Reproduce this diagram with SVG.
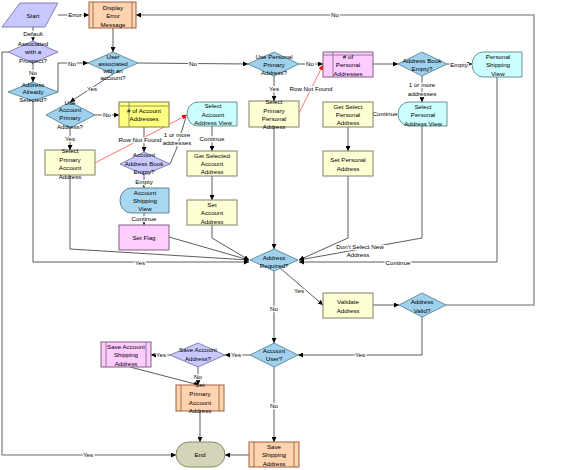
<svg xmlns="http://www.w3.org/2000/svg" width="566" height="470" viewBox="0 0 566 470">
<style>
text{font-family:"Liberation Sans",Arial,sans-serif;font-size:6.2px;text-anchor:middle;fill:#000}
.l{paint-order:stroke;stroke:#fff;stroke-width:2.6px;stroke-linejoin:round}
.c{fill:none;stroke:#333;stroke-width:0.8}
.g{fill:none;stroke:#9a9a9a;stroke-width:1.6}
.r{fill:none;stroke:#ff5050;stroke-width:0.8}
.bl{fill:#9fd0ec;stroke:#4a7a8a;stroke-width:0.8}
.lv{fill:#c8c8ff;stroke:#6a6aa0;stroke-width:0.8}
.ye{fill:#ffffd4;stroke:#80806a;stroke-width:1}
.yd{fill:#ffff80;stroke:#808040;stroke-width:1}
.pk{fill:#ffccff;stroke:#806080;stroke-width:1}
.or{fill:#ffd2b0;stroke:#a06040;stroke-width:1}
.cy{fill:#ccffff;stroke:#4a7a7a;stroke-width:0.8}
.cb{fill:#a8d8f0;stroke:#4a6a7a;stroke-width:0.8}
.en{fill:#d4d4b8;stroke:#707050;stroke-width:0.8}
.in{fill:none;stroke:#806040;stroke-width:0.8}
</style>
<defs>
<marker id="a" viewBox="0 0 6 6" refX="6" refY="3" markerWidth="5" markerHeight="5" markerUnits="userSpaceOnUse" orient="auto"><path d="M0,0L6,3L0,6z" fill="#000"/></marker>
<marker id="ar" viewBox="0 0 6 6" refX="6" refY="3" markerWidth="5" markerHeight="5" markerUnits="userSpaceOnUse" orient="auto"><path d="M0,0L6,3L0,6z" fill="#f00"/></marker>
</defs>

<g id="connectors">
<path class="g" d="M58,15H89" marker-end="url(#a)"/>
<path class="g" d="M446,305H534V15H136" marker-end="url(#a)"/>
<path class="c" d="M33,27V41" marker-end="url(#a)"/>
<path class="c" d="M33,63V82" marker-end="url(#a)"/>
<path class="c" d="M8,52H2V455"/>
<path class="g" d="M2,455H176" marker-end="url(#a)"/>
<path class="c" d="M58,92V63H88" marker-end="url(#a)"/>
<path class="c" d="M33,101V262H249" marker-end="url(#a)"/>
<path class="c" d="M113,28V52" marker-end="url(#a)"/>
<path class="c" d="M113,74L70,102" marker-end="url(#a)"/>
<path class="c" d="M138,63L248,64" marker-end="url(#a)"/>
<path class="c" d="M95,115H119" marker-end="url(#a)"/>
<path class="c" d="M70,128V150" marker-end="url(#a)"/>
<path class="c" d="M70,175V249L249,260" marker-end="url(#a)"/>
<path class="r" d="M95,163L187,115" marker-end="url(#ar)"/>
<path class="c" d="M144,127V152" marker-end="url(#a)"/>
<path class="c" d="M144,174V188" marker-end="url(#a)"/>
<path class="c" d="M170,164L176,150L186,117"/>
<path class="c" d="M144,213V225" marker-end="url(#a)"/>
<path class="c" d="M169,237L249,260" marker-end="url(#a)"/>
<path class="c" d="M212,126V151" marker-end="url(#a)"/>
<path class="c" d="M212,176V200" marker-end="url(#a)"/>
<path class="c" d="M212,225V238L249,260" marker-end="url(#a)"/>
<path class="c" d="M299,64H323" marker-end="url(#a)"/>
<path class="c" d="M274,76V101" marker-end="url(#a)"/>
<path class="c" d="M274,127V249" marker-end="url(#a)"/>
<path class="r" d="M299,113L323,65" marker-end="url(#ar)"/>
<path class="c" d="M373,64H398" marker-end="url(#a)"/>
<path class="c" d="M447,64H472" marker-end="url(#a)"/>
<path class="c" d="M422,76V102" marker-end="url(#a)"/>
<path class="c" d="M398,114H373" marker-end="url(#a)"/>
<path class="c" d="M348,127V151" marker-end="url(#a)"/>
<path class="c" d="M348,176V238L299,260" marker-end="url(#a)"/>
<path class="c" d="M422,126V238L299,260" marker-end="url(#a)"/>
<path class="c" d="M497,77V262H299" marker-end="url(#a)"/>
<path class="c" d="M280,268L323,305" marker-end="url(#a)"/>
<path class="c" d="M274,271V343" marker-end="url(#a)"/>
<path class="c" d="M373,305H399" marker-end="url(#a)"/>
<path class="c" d="M422,317V355H298" marker-end="url(#a)"/>
<path class="c" d="M250,355H225" marker-end="url(#a)"/>
<path class="c" d="M170,355H151" marker-end="url(#a)"/>
<path class="c" d="M198,367V385" marker-end="url(#a)"/>
<path class="c" d="M130,367L199,385" marker-end="url(#a)"/>
<path class="c" d="M200,411V442" marker-end="url(#a)"/>
<path class="c" d="M274,367V442" marker-end="url(#a)"/>
<path class="g" d="M249,455H225" marker-end="url(#a)"/>
<text class="l" x="75" y="17">Error</text>
<text class="l" x="335" y="17">No</text>
<text class="l" x="33" y="36">Default</text>
<text class="l" x="33" y="75">No</text>
<text class="l" x="88" y="457">Yes</text>
<text class="l" x="72" y="66">No</text>
<text class="l" x="140" y="265">Yes</text>
<text class="l" x="92" y="91">Yes</text>
<text class="l" x="193" y="66">No</text>
<text class="l" x="107" y="117">No</text>
<text class="l" x="70" y="141">Yes</text>
<text class="l" x="140" y="142">Row Not Found</text>
<text class="l" x="144" y="184">Empty</text>
<text class="l" x="177" y="137">1 or more</text>
<text class="l" x="177" y="145">addresses</text>
<text class="l" x="144" y="221">Continue</text>
<text class="l" x="212" y="141">Continue</text>
<text class="l" x="310" y="66">No</text>
<text class="l" x="274" y="91">Yes</text>
<text class="l" x="311" y="91">Row Not Found</text>
<text class="l" x="459" y="67">Empty</text>
<text class="l" x="422" y="87">1 or more</text>
<text class="l" x="422" y="96">addresses</text>
<text class="l" x="385" y="116">Continue</text>
<text class="l" x="360" y="249">Don't Select New</text>
<text class="l" x="358" y="257">Address</text>
<text class="l" x="398" y="265">Continue</text>
<text class="l" x="299" y="293">Yes</text>
<text class="l" x="274" y="311">No</text>
<text class="l" x="360" y="357">Yes</text>
<text class="l" x="236" y="357">Yes</text>
<text class="l" x="161" y="357">Yes</text>
<text class="l" x="198" y="379">No</text>
<text class="l" x="274" y="408">No</text>
</g>

<g id="start"><polygon class="lv" points="20,3 58,3 45,27 2,27"/><text x="33" y="18">Start</text></g>
<g id="display_error"><rect class="or" x="89" y="2" width="47" height="26"/><path class="in" d="M93,2V28M132,2V28"/><text x="113" y="9.5">Display</text><text x="113" y="18">Error</text><text x="113" y="26.5">Message</text></g>
<g id="prospect"><polygon class="lv" points="33,41 58,52 33,63 8,52"/><text x="33" y="46">Associated</text><text x="33" y="54">with a</text><text x="33" y="63">Prospect?</text></g>
<g id="already_selected"><polygon class="bl" points="33,82 58,92 33,101 8,92"/><text x="33" y="87">Address</text><text x="33" y="94">Already</text><text x="33" y="102">Selected?</text></g>
<g id="user_assoc"><polygon class="bl" points="113,52 138,63 113,74 88,63"/><text x="113" y="59">User</text><text x="113" y="66">associated</text><text x="113" y="73">with an</text><text x="113" y="80">account?</text></g>
<g id="use_acct_primary"><polygon class="bl" points="70,102 95,115 70,128 46,115"/><text x="70" y="105">Use</text><text x="70" y="112">Account</text><text x="70" y="120">Primary</text><text x="70" y="129">Address?</text></g>
<g id="num_acct_addr"><rect class="yd" x="119" y="102" width="50" height="25"/><path class="in" d="M119,106H169M129,102V127" style="stroke:#808040"/><text x="144" y="113">&#35; of Account</text><text x="144" y="121">Addresses</text></g>
<g id="acct_book_empty"><polygon class="lv" points="144,152 170,164 144,175 120,164"/><text x="144" y="157">Account</text><text x="144" y="166">Address Book</text><text x="144" y="174">Empty?</text></g>
<g id="acct_ship_view"><path class="cb" d="M131,188H169V213H131A11,12.5 0 0 1 131,188Z"/><text x="145" y="195">Account</text><text x="145" y="203">Shipping</text><text x="145" y="211">View</text></g>
<g id="set_flag"><rect class="pk" x="119" y="225" width="50" height="25"/><text x="144" y="240">Set Flag</text></g>
<g id="select_primary_acct"><rect class="ye" x="45" y="150" width="50" height="25"/><text x="70" y="153">Select</text><text x="70" y="162">Primary</text><text x="70" y="170">Account</text><text x="70" y="179">Address</text></g>
<g id="select_acct_view"><path class="cy" d="M198,102H237V126H198A11,12 0 0 1 198,102Z"/><text x="213" y="108">Select</text><text x="213" y="117">Account</text><text x="213" y="125">Address View</text></g>
<g id="get_selected_acct"><rect class="ye" x="187" y="151" width="50" height="25"/><text x="212" y="158">Get Selected</text><text x="212" y="166">Account</text><text x="212" y="174">Address</text></g>
<g id="set_acct_addr"><rect class="ye" x="187" y="200" width="50" height="25"/><text x="212" y="207">Set</text><text x="212" y="215">Account</text><text x="212" y="224">Address</text></g>
<g id="use_personal_primary"><polygon class="bl" points="274,52 299,64 274,76 248,64"/><text x="274" y="59">Use Personal</text><text x="274" y="67">Primary</text><text x="274" y="75">Address?</text></g>
<g id="num_personal"><rect class="pk" x="323" y="52" width="50" height="25"/><path class="in" d="M323,55H373M333,52V77" style="stroke:#806080"/><text x="348" y="59">&#35; of</text><text x="348" y="67">Personal</text><text x="348" y="76">Addresses</text></g>
<g id="addr_book_empty"><polygon class="bl" points="422,52 447,64 422,76 398,64"/><text x="422" y="63">Address Book</text><text x="422" y="71">Empty?</text></g>
<g id="personal_ship_view"><path class="cy" d="M483,52H522V77H483A11,12.5 0 0 1 483,52Z"/><text x="498" y="59">Personal</text><text x="498" y="67">Shipping</text><text x="498" y="76">View</text></g>
<g id="select_personal_view"><path class="cy" d="M409,102H447V126H409A11,12 0 0 1 409,102Z"/><text x="423" y="109">Select</text><text x="423" y="117">Personal</text><text x="423" y="126">Address View</text></g>
<g id="get_select_personal"><rect class="ye" x="323" y="102" width="50" height="25"/><text x="348" y="109">Get Select</text><text x="348" y="117">Personal</text><text x="348" y="125">Address</text></g>
<g id="set_personal"><rect class="ye" x="323" y="151" width="50" height="25"/><text x="348" y="162">Set Personal</text><text x="348" y="171">Address</text></g>
<g id="select_primary_personal"><rect class="ye" x="249" y="101" width="50" height="26"/><text x="274" y="104">Select</text><text x="274" y="113">Primary</text><text x="274" y="121">Personal</text><text x="274" y="129">Address</text></g>
<g id="addr_required"><polygon class="bl" points="274,249 298,260 274,271 250,260"/><text x="274" y="260">Address</text><text x="274" y="268">Required?</text></g>
<g id="validate"><rect class="ye" x="323" y="293" width="50" height="25"/><text x="348" y="304">Validate</text><text x="348" y="313">Address</text></g>
<g id="addr_valid"><polygon class="bl" points="422,293 446,305 422,317 399,305"/><text x="422" y="304">Address</text><text x="422" y="313">Valid?</text></g>
<g id="account_user"><polygon class="bl" points="274,343 298,355 274,367 250,355"/><text x="274" y="353">Account</text><text x="274" y="361">User?</text></g>
<g id="save_acct_addr"><polygon class="lv" points="198,343 225,355 198,367 170,355"/><text x="198" y="352">Save Account</text><text x="198" y="361">Address?</text></g>
<g id="save_acct_ship"><rect class="pk" x="101" y="342" width="50" height="25"/><path class="in" d="M106,342V367M146,342V367" style="stroke:#806080"/><text x="126" y="349">Save Account</text><text x="126" y="357">Shipping</text><text x="126" y="366">Address</text></g>
<g id="set_primary_acct"><rect class="or" x="176" y="385" width="48" height="26"/><path class="in" d="M181,385V411M219,385V411"/><text x="200" y="387">Set</text><text x="200" y="396">Primary</text><text x="200" y="405">Account</text><text x="200" y="413">Address</text></g>
<g id="save_shipping"><rect class="or" x="249" y="442" width="50" height="25"/><path class="in" d="M254,442V467M294,442V467"/><text x="274" y="449">Save</text><text x="274" y="457">Shipping</text><text x="274" y="466">Address</text></g>
<g id="end"><rect class="en" x="176" y="442" width="49" height="25" rx="12.5"/><text x="200" y="457">End</text></g>
</svg>
